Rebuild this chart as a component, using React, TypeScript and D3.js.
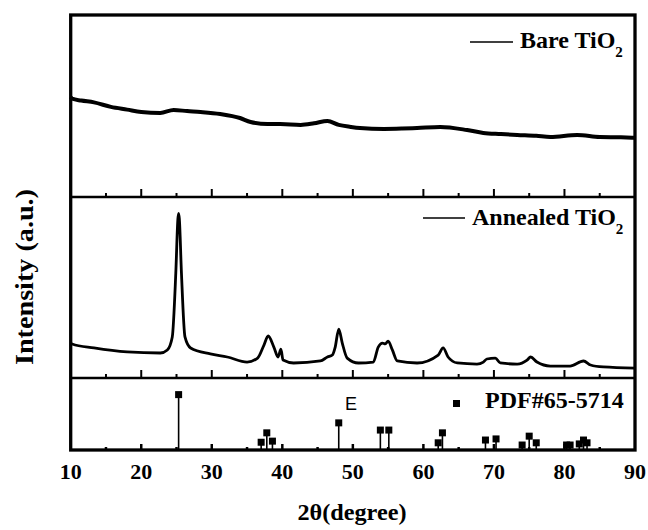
import React from "react";
import * as d3 from "d3";

// ---- data ----
const bareTheta = [10, 10.2, 11.5, 13.3, 15.7, 18, 20, 22.7, 24.6, 26.5, 28.4, 31.2, 34, 35.5, 37.9, 39.7, 42.6, 44.5, 46.4, 48, 49.7, 51, 54.4, 57, 59.1, 62.4, 66.2, 68.5, 71, 73.3, 76, 78, 81.8, 85, 88, 90];
const bareInt = [55, 54, 53, 52, 49.5, 48, 46.7, 46.2, 47.8, 47.2, 46.7, 45.6, 43.4, 41.2, 40.1, 40.1, 39.6, 40.5, 41.8, 39.6, 38.5, 37.9, 37.4, 37.6, 37.9, 38.5, 36.8, 35.2, 34.6, 34.1, 33.6, 33, 34.1, 33, 32.8, 32.5];

const annTheta = [10, 10.2, 13.3, 18, 22.7, 23.7, 24.4, 24.9, 25.2, 25.3, 25.4, 25.7, 26.2, 27, 29.8, 32.2, 35, 36.5, 37.4, 38, 38.8, 39.4, 39.8, 40.1, 41.6, 45.4, 46.4, 47.1, 47.5, 48, 48.5, 49.2, 50.8, 52.9, 53.6, 54.2, 54.6, 55, 55.6, 56.3, 59.1, 62.1, 62.8, 63.5, 64.8, 67.6, 68.5, 69, 70.2, 70.9, 73.3, 74.7, 75.2, 76.1, 78, 80.8, 82.7, 83.7, 85.5, 90];
const annInt = [19.3, 18.8, 16.6, 14.4, 13.8, 15.5, 22.7, 58, 88, 91, 88, 58, 22.7, 16.6, 13.3, 11.6, 8.8, 11, 18.2, 23.2, 17.1, 11.6, 16, 9.9, 8.3, 9.4, 11.6, 12.7, 17.1, 27, 19.3, 11, 8.3, 8.8, 17.1, 19.3, 18.8, 20.4, 15.5, 9.4, 8.3, 12.7, 16.6, 11.6, 8.3, 7.7, 8.8, 10.5, 11, 8.3, 7.7, 9.9, 11.6, 8.8, 6.6, 6.6, 9.4, 7.2, 6.1, 5.5];

const pdfTheta = [25.3, 37.0, 37.8, 38.6, 48.0, 53.9, 55.1, 62.1, 62.7, 68.8, 70.3, 74.0, 75.0, 76.0, 80.3, 80.8, 82.1, 82.7, 83.2];
const pdfInt = [100, 14, 31, 16, 49, 36, 36, 13, 31, 18, 20, 9, 25, 13, 9, 9, 11, 18, 13];

const majorTicks = [10, 20, 30, 40, 50, 60, 70, 80, 90];
const minorTicks = [15, 25, 35, 45, 55, 65, 75, 85];

const FONT = "'Liberation Serif', 'Times New Roman', serif";

export default function App() {
  const left = 70.7, right = 635;
  const top = 15, div1 = 197, div2 = 378, bottom = 450;

  const x = d3.scaleLinear().domain([10, 90]).range([left, right]);
  const yTop = d3.scaleLinear().domain([0, 100]).range([div1, top]);
  const yMid = d3.scaleLinear().domain([0, 100]).range([div2, div1]);
  const yBot = d3.scaleLinear().domain([0, 130]).range([bottom, div2]);

  const lineTop = d3.line<number>().x((_, i) => x(bareTheta[i])).y((d) => yTop(d)).curve(d3.curveMonotoneX);
  const lineMid = d3.line<number>().x((_, i) => x(annTheta[i])).y((d) => yMid(d)).curve(d3.curveMonotoneX);

  const ticksFor = (base: number, maj: number, min: number, sw: number) => (
    <g stroke="#000" strokeWidth={sw}>
      {majorTicks.slice(1, -1).map((t) => (
        <line key={"M" + t} x1={x(t)} x2={x(t)} y1={base} y2={base - maj} />
      ))}
      {minorTicks.map((t) => (
        <line key={"m" + t} x1={x(t)} x2={x(t)} y1={base} y2={base - min} />
      ))}
    </g>
  );

  const sq = 7;

  return (
    <svg width={648} height={530} style={{ position: "absolute", left: 0, top: 0, background: "#fff" }} fontFamily={FONT}>
      <rect x={0} y={0} width={648} height={530} fill="#fff" />
      {/* curves */}
      <path d={lineTop(bareInt) || ""} fill="none" stroke="#000" strokeWidth={4} strokeLinejoin="round" />
      <path d={lineMid(annInt) || ""} fill="none" stroke="#000" strokeWidth={2.8} strokeLinejoin="round" />

      {/* PDF reference sticks */}
      <g>
        {pdfTheta.map((t, i) => (
          <g key={"p" + i}>
            <line x1={x(t)} x2={x(t)} y1={yBot(0)} y2={yBot(pdfInt[i])} stroke="#000" strokeWidth={1.6} />
            <rect x={x(t) - sq / 2} y={yBot(pdfInt[i]) - sq / 2} width={sq} height={sq} fill="#000" />
          </g>
        ))}
      </g>

      {/* ticks */}
      {ticksFor(div1, 8, 4, 2)}
      {ticksFor(div2, 8, 4, 2)}
      {ticksFor(bottom, 6, 3, 2.5)}

      {/* frame and dividers */}
      <line x1={left} x2={right} y1={div1} y2={div1} stroke="#000" strokeWidth={2.5} />
      <line x1={left} x2={right} y1={div2} y2={div2} stroke="#000" strokeWidth={2.5} />
      <rect x={left} y={top} width={right - left} height={bottom - top} fill="none" stroke="#000" strokeWidth={3.3} />

      {/* x tick labels */}
      <g fontSize={22} fontWeight="bold" textAnchor="middle">
        {majorTicks.map((t) => (
          <text key={"l" + t} x={x(t)} y={479}>{t}</text>
        ))}
      </g>

      {/* axis titles */}
      <text x={352} y={520} fontSize={23} fontWeight="bold" textAnchor="middle" textLength={109} lengthAdjust="spacingAndGlyphs">2θ(degree)</text>
      <text transform="translate(33,277) rotate(-90)" fontSize={25} fontWeight="bold" textAnchor="middle" textLength={176} lengthAdjust="spacingAndGlyphs">Intensity (a.u.)</text>

      {/* legends */}
      <line x1={470} x2={513} y1={42} y2={42} stroke="#000" strokeWidth={1.5} />
      <text x={520} y={48} fontSize={24} fontWeight="bold">
        Bare TiO<tspan fontSize={15} dy={9}>2</tspan>
      </text>
      <line x1={423} x2={465} y1={218} y2={218} stroke="#000" strokeWidth={1.5} />
      <text x={472} y={225} fontSize={24} fontWeight="bold">
        Annealed TiO<tspan fontSize={15} dy={9}>2</tspan>
      </text>
      <text x={345} y={410} fontSize={18} fontFamily="'Liberation Sans', Arial, sans-serif">E</text>
      <rect x={453} y={400} width={7} height={7} fill="#000" />
      <text x={485} y={408} fontSize={24} fontWeight="bold">PDF#65-5714</text>
    </svg>
  );
}
